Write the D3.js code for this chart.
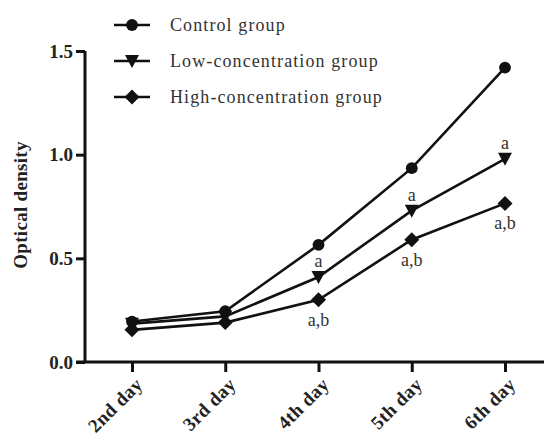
<!DOCTYPE html>
<html>
<head>
<meta charset="utf-8">
<script src="https://cdn.jsdelivr.net/npm/d3@7"></script>
<style>
  body { margin: 0; background: #fff; }
  svg text { font-family: "Liberation Serif", "DejaVu Serif", serif; }
</style>
</head>
<body>
<svg id="chart" width="544" height="437"></svg>
<script>
const days = ["2nd day", "3rd day", "4th day", "5th day", "6th day"];
const control = [0.195, 0.245, 0.565, 0.935, 1.42];
const low = [0.185, 0.22, 0.41, 0.73, 0.98];
const high = [0.155, 0.19, 0.30, 0.59, 0.765];
const lowMarks = ["", "", "a", "a", "a"];
const highMarks = ["", "", "a,b", "a,b", "a,b"];
const yTicks = [0.0, 0.5, 1.0, 1.5];

const series = [
  {name: "Control group", values: control, shape: "circle"},
  {name: "Low-concentration group", values: low, shape: "tri"},
  {name: "High-concentration group", values: high, shape: "diamond"}
];

const svg = d3.select("#chart");
const x = d3.scalePoint().domain(days).range([132, 505]);
const y = d3.scaleLinear().domain([0, 1.5]).range([362, 51]);

// marker shapes
function markerPath(s) {
  if (s.shape === "tri") return "M-7,-6L7,-6L0,7Z";
  if (s.shape === "diamond") return "M0,-7.5L7.5,0L0,7.5L-7.5,0Z";
  return d3.symbol().type(d3.symbolCircle).size(110)();
}

// axes
const yAxis = svg.append("g")
  .attr("transform", "translate(85,0)")
  .call(d3.axisLeft(y).tickValues(yTicks).tickFormat(d3.format(".1f")).tickSize(9).tickPadding(3));
yAxis.select(".domain").attr("d", "M0," + y(1.5) + "V" + y(0));

const xAxis = svg.append("g")
  .attr("transform", "translate(0,362)")
  .call(d3.axisBottom(x).tickSize(10).tickFormat(""));
xAxis.select(".domain").attr("d", "M76,0H544");

svg.selectAll(".domain").attr("stroke", "#111").attr("stroke-width", 3);
svg.selectAll(".tick line").attr("stroke", "#111").attr("stroke-width", 3);
yAxis.attr("font-family", null);
yAxis.selectAll(".tick text")
  .attr("font-size", 19).attr("font-weight", "bold").attr("fill", "#222");

// rotated x labels
svg.append("g").selectAll("text")
  .data(days)
  .enter().append("text")
  .attr("transform", d => "translate(" + (x(d) + 7) + ",381) rotate(-45)")
  .attr("text-anchor", "end")
  .attr("dy", "0.35em")
  .attr("font-size", 19)
  .attr("letter-spacing", 0.4)
  .attr("font-weight", "bold")
  .attr("fill", "#222")
  .text(d => d);

// y title
svg.append("text")
  .attr("transform", "translate(27,205) rotate(-90)")
  .attr("text-anchor", "middle")
  .attr("font-size", 19)
  .attr("letter-spacing", 0.3)
  .attr("font-weight", "bold")
  .attr("fill", "#222")
  .text("Optical density");

// lines and markers
const line = d3.line().x((d, i) => x(days[i])).y(d => y(d));
series.forEach(s => {
  svg.append("path")
    .attr("d", line(s.values))
    .attr("fill", "none")
    .attr("stroke", "#111")
    .attr("stroke-width", 2.6);
  svg.append("g").selectAll("path")
    .data(s.values)
    .enter().append("path")
    .attr("transform", (d, i) => "translate(" + x(days[i]) + "," + y(d) + ")")
    .attr("d", markerPath(s))
    .attr("fill", "#111");
});

// significance marks
svg.append("g").selectAll("text")
  .data(low)
  .enter().append("text")
  .attr("x", (d, i) => x(days[i]))
  .attr("y", d => y(d) - 10)
  .attr("text-anchor", "middle")
  .attr("font-size", 18)
  .attr("fill", "#333")
  .text((d, i) => lowMarks[i]);

svg.append("g").selectAll("text")
  .data(high)
  .enter().append("text")
  .attr("x", (d, i) => x(days[i]))
  .attr("y", d => y(d) + 26)
  .attr("text-anchor", "middle")
  .attr("font-size", 18)
  .attr("fill", "#333")
  .text((d, i) => highMarks[i]);

// legend
const legend = svg.append("g").selectAll("g")
  .data(series)
  .enter().append("g")
  .attr("transform", (d, i) => "translate(0," + (25 + i * 36) + ")");
legend.append("line")
  .attr("x1", 114).attr("x2", 150)
  .attr("stroke", "#111").attr("stroke-width", 2.6);
legend.append("path")
  .attr("transform", "translate(132,0)")
  .attr("d", d => markerPath(d))
  .attr("fill", "#111");
legend.append("text")
  .attr("x", 170)
  .attr("dy", "0.33em")
  .attr("font-size", 18)
  .attr("letter-spacing", 1.1)
  .attr("fill", "#333")
  .text(d => d.name);
</script>
</body>
</html>
